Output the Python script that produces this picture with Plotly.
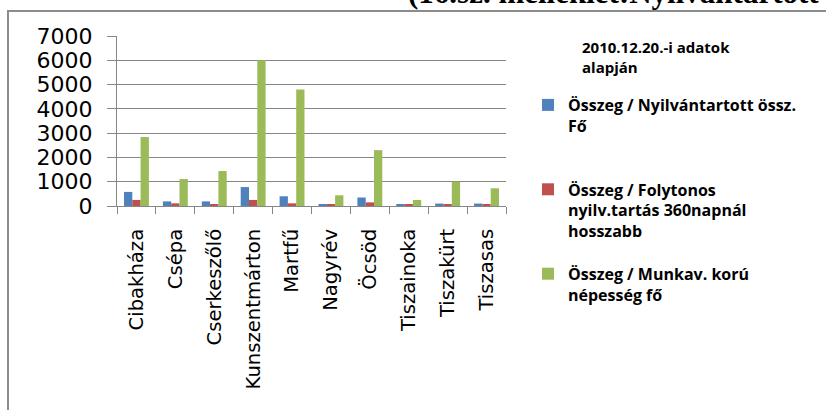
import plotly.graph_objects as go

categories = ["Cibakháza", "Csépa", "Cserkeszőlő", "Kunszentmárton", "Martfű",
              "Nagyrév", "Öcsöd", "Tiszainoka", "Tiszakürt", "Tiszasas"]
nyilvantartott = [580, 190, 190, 780, 400, 60, 350, 50, 100, 100]
folytonos = [250, 110, 60, 250, 110, 60, 150, 50, 60, 60]
munkakoru = [2840, 1110, 1440, 6000, 4800, 440, 2300, 250, 1000, 730]

series_names = [
    "Összeg / Nyilvántartott össz.<br>Fő<br> ",
    "Összeg / Folytonos<br>nyilv.tartás 360napnál<br>hosszabb",
    "Összeg / Munkav. korú<br>népesség fő",
]
series_values = [nyilvantartott, folytonos, munkakoru]
colors = ["#4F81BD", "#C0504D", "#9BBB59"]
yticks = [0, 1000, 2000, 3000, 4000, 5000, 6000, 7000]

W, H = 826, 410
L, R, T, B = 117, 506, 36, 206

def px_x(x):
    return (x - L) / (R - L)

def px_y(y):
    return (B - y) / (B - T)

fig = go.Figure()
for i, (name, vals, col) in enumerate(zip(series_names, series_values, colors)):
    fig.add_trace(go.Bar(x=categories, y=vals, name=name, marker_color=col,
                         marker_line_width=0, legendgroup=str(i)))

grid = "#868686"
fig.update_layout(
    width=W, height=H,
    margin=dict(l=L, r=W - R, t=T, b=H - B, pad=0),
    paper_bgcolor="white", plot_bgcolor="white",
    barmode="group", bargap=0.36, bargroupgap=0,
    font=dict(family="DejaVu Sans", color="#000000"),
    showlegend=True,
    legend=dict(
        x=px_x(528), y=px_y(88), xanchor="left", yanchor="top",
        font=dict(family="Open Sans", size=16, color="#000000", weight="bold"),
        tracegroupgap=19, valign="top", bgcolor="rgba(0,0,0,0)",
        itemwidth=30, maxheight=400,
    ),
    xaxis=dict(
        type="category", showgrid=False, showline=True, linecolor=grid, linewidth=1,
        ticks="outside", tickson="boundaries", ticklen=7, tickcolor=grid,
        tickangle=-90, tickfont=dict(family="DejaVu Sans", size=19.6, color="#000000"),
        ticklabelstandoff=14,
    ),
    yaxis=dict(
        range=[0, 7000], tickvals=yticks, ticktext=[str(v) for v in yticks],
        showgrid=True, gridcolor=grid, gridwidth=1,
        showline=True, linecolor=grid, linewidth=1,
        ticks="outside", ticklen=9, tickcolor=grid,
        tickfont=dict(family="DejaVu Sans", size=22, color="#000000"),
        ticklabelstandoff=10, zeroline=False,
    ),
)

# chart frame (left and top edges visible)
fig.add_shape(type="line", xref="paper", yref="paper",
              x0=px_x(8), x1=px_x(8), y0=px_y(11), y1=px_y(420),
              line=dict(color="#8c8c8c", width=2))
fig.add_shape(type="line", xref="paper", yref="paper",
              x0=px_x(7), x1=px_x(830), y0=px_y(11), y1=px_y(11),
              line=dict(color="#8c8c8c", width=2))

# legend heading
fig.add_annotation(text="<b>2010.12.20.-i adatok<br>alapján</b>", xref="paper", yref="paper",
                   x=px_x(580), y=px_y(35), xanchor="left", yanchor="top", align="left",
                   showarrow=False, font=dict(family="Open Sans", size=15, color="#000000"))

# cut-off document heading at the very top
fig.add_annotation(text="<b>(16.sz. melléklet:Nyilvántartott álláskeresők)</b>", xref="paper", yref="paper",
                   x=px_x(406), y=px_y(12), xanchor="left", yanchor="bottom", align="left",
                   showarrow=False, font=dict(family="Liberation Serif", size=31, color="#000000"))

fig.write_html("out.html", config={"displayModeBar": False},
               post_script="document.body.style.margin='0';")
